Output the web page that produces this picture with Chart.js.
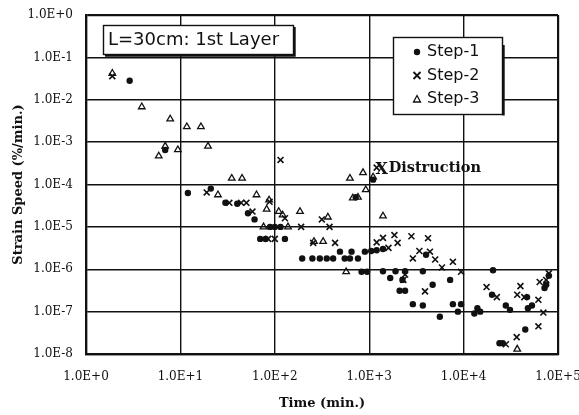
<!DOCTYPE html>
<html>
<head>
<meta charset="utf-8">
<script src="https://cdn.jsdelivr.net/npm/chart.js@4.4.1/dist/chart.umd.min.js"></script>
<style>
    html, body { margin: 0; padding: 0; background: #fff; }
    #wrap { width: 579px; height: 415px; }
</style>
</head>
<body>
<div id="wrap"><canvas id="strainChart" width="579" height="415"></canvas></div>
<script>
// Strain speed vs time, log-log, three loading steps

const timeTicks = [1, 10, 100, 1000, 10000, 100000];
const speedTicks = [1e-8, 1e-7, 1e-6, 1e-5, 1e-4, 1e-3, 1e-2, 1e-1, 1];
const seriesNames = ['Step-1', 'Step-2', 'Step-3'];

// Step-1 (filled circles)
const step1Time = [2.9, 6.9, 12, 21, 30, 40, 52, 61, 70, 80, 89, 100, 115, 128,
    195, 250, 300, 355, 415, 550, 625, 760, 490, 650, 900, 1050, 1200, 1400,
    1100, 720, 830, 950, 1400, 1900, 2400, 3700, 1670, 2250, 2100, 2400, 4700,
    2900, 3700, 7200, 5600, 7700, 9400, 8700, 4000, 20500, 20000, 13000, 14000,
    15000, 28000, 31000, 47000, 48000, 53000, 72000, 75000, 80000, 45000, 24000, 26000];
const step1Speed = [0.028, 6.5e-4, 6.3e-5, 8e-5, 3.7e-5, 3.5e-5, 2.1e-5, 1.5e-5, 5.2e-6, 5.2e-6, 1e-5, 1e-5, 1e-5, 5.2e-6,
    1.8e-6, 1.8e-6, 1.8e-6, 1.8e-6, 1.8e-6, 1.8e-6, 1.8e-6, 1.8e-6, 2.6e-6, 2.6e-6, 2.6e-6, 2.7e-6, 2.8e-6, 3e-6,
    1.3e-4, 5e-5, 8.7e-7, 8.7e-7, 9e-7, 9e-7, 9e-7, 9e-7, 6.2e-7, 5.6e-7, 3.1e-7, 3.1e-7, 4.3e-7,
    1.5e-7, 1.4e-7, 5.6e-7, 7.6e-8, 1.5e-7, 1.5e-7, 1e-7, 2.2e-6, 9.5e-7, 2.5e-7, 9e-8, 1.2e-7,
    1e-7, 1.4e-7, 1.1e-7, 2.2e-7, 1.2e-7, 1.4e-7, 3.6e-7, 4.3e-7, 7e-7, 3.8e-8, 1.8e-8, 1.8e-8];

// Step-2 (crosses)
const step2Time = [1.9, 115, 19, 33, 44, 50, 58, 88, 128, 85, 100, 190, 315, 380, 255, 435,
    1200, 1200, 1400, 1600, 1850, 2000, 2800, 4200, 2900, 3400, 4400, 5000, 5900, 7700, 9400,
    2400, 2300, 3900, 17500, 22500, 40000, 37000, 44000, 64000, 75000, 80000, 62000, 70000,
    62000, 36500, 28000];
const step2Speed = [0.036, 3.8e-4, 6.5e-5, 3.7e-5, 3.7e-5, 3.7e-5, 2.3e-5, 3.9e-5, 1.6e-5, 5.2e-6, 5.2e-6, 1e-5, 1.5e-5, 1e-5, 4.2e-6, 4.2e-6,
    2.5e-4, 4.3e-6, 5.5e-6, 3.2e-6, 6.4e-6, 4.2e-6, 6e-6, 5.4e-6, 1.8e-6, 2.7e-6, 2.6e-6, 1.7e-6, 1.1e-6, 1.5e-6, 8.7e-7,
    7.5e-7, 5.6e-7, 3e-7, 3.8e-7, 2.2e-7, 4e-7, 2.5e-7, 2.2e-7, 5e-7, 5.6e-7, 8e-7, 1.9e-7, 9.5e-8,
    4.5e-8, 2.5e-8, 1.7e-8];

// Step-3 (open triangles)
const step3Time = [1.9, 3.9, 7.8, 11.7, 16.5, 5.9, 6.9, 9.4, 19.6, 35, 45, 25, 64, 76, 87, 82,
    110, 121, 138, 185, 365, 260, 325, 625, 860, 1100, 670, 760, 920, 1400, 570, 37000];
const step3Speed = [0.042, 0.0068, 0.0035, 0.0023, 0.0023, 4.7e-4, 8e-4, 6.6e-4, 8e-4, 1.4e-4, 1.4e-4, 5.7e-5, 5.7e-5, 1e-5, 4.3e-5, 2.6e-5,
    2.3e-5, 1.9e-5, 1e-5, 2.3e-5, 1.7e-5, 4.5e-6, 4.5e-6, 1.4e-4, 1.9e-4, 1.5e-4, 4.8e-5, 5e-5, 7.5e-5, 1.8e-5, 8.7e-7, 1.3e-8];

// Failure point marked on the chart
const destructionTime = 1200;
const destructionSpeed = 2.5e-4;

function toPoints(xs, ys) {
    return xs.map((x, i) => ({ x: x, y: ys[i] }));
}

function sciLabel(v) {
    const e = Math.round(Math.log10(v));
    return '1.0E' + (e < 0 ? '-' : '+') + Math.abs(e);
}

const INK = '#111';
const tickFont = { family: 'DejaVu Serif', size: 12 };
const titleFont = { family: 'DejaVu Serif', size: 13, weight: 'bold' };

function drawMarker(ctx, type, x, y) {
    ctx.save();
    ctx.strokeStyle = INK;
    ctx.fillStyle = INK;
    if (type === 0) {
        ctx.beginPath();
        ctx.arc(x, y, 3.2, 0, Math.PI * 2);
        ctx.fill();
    } else if (type === 1) {
        ctx.lineWidth = 1.8;
        ctx.beginPath();
        ctx.moveTo(x - 3.5, y - 3.5); ctx.lineTo(x + 3.5, y + 3.5);
        ctx.moveTo(x + 3.5, y - 3.5); ctx.lineTo(x - 3.5, y + 3.5);
        ctx.stroke();
    } else {
        ctx.lineWidth = 1.3;
        ctx.beginPath();
        ctx.moveTo(x, y - 3.5); ctx.lineTo(x + 3.5, y + 3); ctx.lineTo(x - 3.5, y + 3);
        ctx.closePath();
        ctx.stroke();
    }
    ctx.restore();
}

const notesPlugin = {
    id: 'notes',
    afterDraw(chart) {
        const ctx = chart.ctx;
        const area = chart.chartArea;
        ctx.save();

        // title box
        const tx = area.left + 17, ty = area.top + 10, tw = 190, th = 29;
        ctx.fillStyle = '#fff';
        ctx.fillRect(tx, ty, tw, th);
        ctx.strokeStyle = INK;
        ctx.lineWidth = 1.4;
        ctx.strokeRect(tx + 0.5, ty + 0.5, tw, th);
        ctx.lineWidth = 2.4;
        ctx.beginPath();
        ctx.moveTo(tx + tw + 1.5, ty + 2);
        ctx.lineTo(tx + tw + 1.5, ty + th + 1.5);
        ctx.lineTo(tx + 2, ty + th + 1.5);
        ctx.stroke();
        ctx.fillStyle = INK;
        ctx.font = '18px "DejaVu Sans"';
        ctx.textBaseline = 'middle';
        ctx.textAlign = 'left';
        ctx.fillText('L=30cm: 1st Layer', tx + 5, ty + th / 2 + 1);

        // legend box
        const lx = area.right - 165, ly = area.top + 22, lw = 109, lh = 77;
        ctx.fillStyle = '#fff';
        ctx.fillRect(lx, ly, lw, lh);
        ctx.lineWidth = 1.4;
        ctx.strokeRect(lx + 0.5, ly + 0.5, lw, lh);
        ctx.lineWidth = 2.4;
        ctx.beginPath();
        ctx.moveTo(lx + lw + 1.5, ly + 8);
        ctx.lineTo(lx + lw + 1.5, ly + lh + 1.5);
        ctx.stroke();
        ctx.font = '16px "DejaVu Sans"';
        ctx.fillStyle = INK;
        seriesNames.forEach((name, i) => {
            const rowY = ly + 15 + i * 23.5;
            drawMarker(ctx, i, lx + 24, rowY);
            ctx.fillText(name, lx + 34, rowY);
        });

        // destruction label
        const dx = chart.scales.x.getPixelForValue(destructionTime);
        const dy = chart.scales.y.getPixelForValue(destructionSpeed);
        ctx.font = 'bold 16px "DejaVu Serif"';
        ctx.textAlign = 'center';
        ctx.fillText('X', dx + 5, dy + 2);
        ctx.textAlign = 'left';
        ctx.font = 'bold 14.5px "DejaVu Serif"';
        ctx.fillText('Distruction', dx + 12, dy + 1);

        ctx.restore();
    }
};

function frameWidth(ctx, first, last) {
    const v = ctx.tick ? ctx.tick.value : null;
    return (v === first || v === last) ? 2.2 : 1.4;
}

new Chart(document.getElementById('strainChart'), {
    type: 'scatter',
    data: {
        datasets: [
            {
                label: seriesNames[0],
                data: toPoints(step1Time, step1Speed),
                pointStyle: 'circle',
                pointRadius: 3.2,
                backgroundColor: INK,
                borderColor: INK,
                borderWidth: 0
            },
            {
                label: seriesNames[1],
                data: toPoints(step2Time, step2Speed),
                pointStyle: 'crossRot',
                pointRadius: 4.2,
                borderColor: INK,
                borderWidth: 1.6
            },
            {
                label: seriesNames[2],
                data: toPoints(step3Time, step3Speed),
                pointStyle: 'triangle',
                pointRadius: 3.8,
                backgroundColor: 'rgba(255,255,255,0)',
                borderColor: INK,
                borderWidth: 1.3
            }
        ]
    },
    options: {
        responsive: false,
        animation: false,
        layout: { padding: { top: 15, right: 21, left: 0, bottom: 0 } },
        plugins: {
            legend: { display: false },
            tooltip: { enabled: false }
        },
        scales: {
            x: {
                type: 'logarithmic',
                min: 1,
                max: 100000,
                afterBuildTicks: (scale) => { scale.ticks = timeTicks.map(v => ({ value: v })); },
                afterFit: (scale) => { scale.height = 61; scale.paddingLeft = 0; scale.paddingRight = 0; },
                ticks: {
                    callback: (v) => sciLabel(v),
                    font: tickFont,
                    color: INK,
                    padding: 16,
                    maxRotation: 0,
                    autoSkip: false
                },
                grid: {
                    color: INK,
                    lineWidth: (ctx) => frameWidth(ctx, 1, 100000),
                    drawTicks: false
                },
                border: { color: INK, width: 2.2 },
                title: {
                    display: true,
                    text: 'Time (min.)',
                    font: titleFont,
                    color: INK,
                    padding: { top: 0, bottom: 4 }
                }
            },
            y: {
                type: 'logarithmic',
                min: 1e-8,
                max: 1,
                afterBuildTicks: (scale) => { scale.ticks = speedTicks.map(v => ({ value: v })); },
                afterFit: (scale) => { scale.width = 86; scale.paddingTop = 0; scale.paddingBottom = 0; },
                ticks: {
                    callback: (v) => sciLabel(v),
                    font: tickFont,
                    color: INK,
                    padding: 13,
                    autoSkip: false
                },
                grid: {
                    color: INK,
                    lineWidth: (ctx) => frameWidth(ctx, 1e-8, 1),
                    drawTicks: false
                },
                border: { color: INK, width: 2.2 },
                title: {
                    display: true,
                    text: 'Strain Speed (%/min.)',
                    font: titleFont,
                    color: INK,
                    padding: { top: 11, bottom: 0 }
                }
            }
        }
    },
    plugins: [notesPlugin]
});
</script>
</body>
</html>
